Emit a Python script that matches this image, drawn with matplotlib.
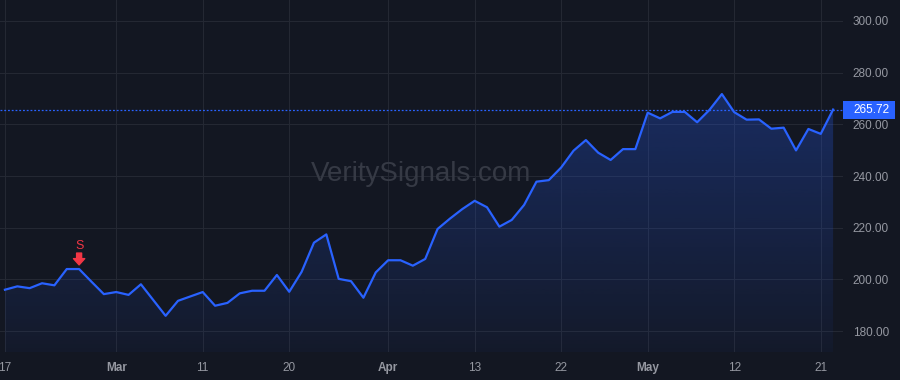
import numpy as np
import matplotlib
matplotlib.use("Agg")
import matplotlib.pyplot as plt
from matplotlib.patches import Rectangle
import matplotlib.transforms as mtransforms

plt.rcParams['font.family'] = ['Liberation Sans', 'DejaVu Sans']

# daily closes, one per trading bar
closes = [
    196.0, 197.3, 196.6, 198.5, 197.7, 204.0, 204.0, 199.1, 194.3, 195.1,
    194.0, 198.1, 192.0, 185.9, 191.7, 193.4, 195.1, 189.8, 190.9, 194.6,
    195.6, 195.6, 201.7, 195.2, 202.9, 214.2, 217.4, 200.2, 199.3, 192.9,
    202.7, 207.4, 207.4, 205.3, 207.9, 219.5, 223.5, 227.2, 230.4, 227.9,
    220.4, 223.0, 228.8, 237.8, 238.4, 243.3, 249.8, 253.9, 249.0, 246.2,
    250.4, 250.4, 264.5, 262.3, 264.8, 264.8, 260.8, 265.6, 271.7, 264.7,
    261.8, 261.9, 258.3, 258.7, 249.9, 258.2, 256.3, 265.72,
]
# x axis labels and the bar they sit on
tick_bars = [0, 9, 16, 23, 31, 38, 45, 52, 59, 66]
tick_labels = ['17', 'Mar', '11', '20', 'Apr', '13', '22', 'May', '12', '21']
months = {'Mar', 'Apr', 'May'}
price_ticks = [180, 200, 220, 240, 260, 280, 300]
signal_bar = 6  # "S" marker
last_price = closes[-1]

BG = '#131722'
GRID = '#242833'
BLUE = '#2962ff'
TXT = '#9598a1'
RED = '#f23645'

x = np.arange(len(closes))
y = np.array(closes)

fig = plt.figure(figsize=(9, 3.8), dpi=100, facecolor=BG)
ax = fig.add_axes([0, 28 / 380, 843 / 900, 352 / 380], facecolor=BG)

ymin, ymax = 171.9, 308.1

for s in ax.spines.values():
    s.set_visible(False)

ax.set_xticks(tick_bars)
ax.set_xticklabels(tick_labels)
for lab in ax.get_xticklabels():
    if lab.get_text() in months:
        lab.set_fontweight('bold')
ax.set_yticks(price_ticks)
ax.set_yticklabels([f'{v:.2f}' for v in price_ticks])
ax.yaxis.tick_right()
ax.tick_params(axis='both', length=0, colors=TXT, labelsize=8.5)
ax.tick_params(axis='x', pad=7)
ax.tick_params(axis='y', pad=7)
ax.grid(True, color=GRID, linewidth=0.8, zorder=0)
ax.set_axisbelow(True)

# watermark
ax.text(0.499, 0.505, 'VeritySignals.com', transform=ax.transAxes,
        ha='center', va='center', fontsize=20, color='#363a45', zorder=1)

# gradient area under the line
poly = ax.fill_between(x, y, ymin, color='none', linewidth=0)
grad = np.zeros((256, 1, 4))
grad[:, 0, 0] = 41 / 255
grad[:, 0, 1] = 98 / 255
grad[:, 0, 2] = 1.0
grad[:, 0, 3] = np.linspace(0.28, 0.04, 256)
img = ax.imshow(grad, extent=[x[0], x[-1], ymin, y.max()], aspect='auto',
                origin='upper', zorder=2)
img.set_clip_path(poly.get_paths()[0], transform=ax.transData)
ax.set_xlim(-0.4, 67.8)
ax.set_ylim(ymin, ymax)

ax.plot(x, y, color=BLUE, linewidth=1.6, zorder=3, solid_joinstyle='round')

# last price line and label
ax.axhline(last_price, color=BLUE, linewidth=0.9, linestyle=(0, (1.5, 1.5)), zorder=3)
trans = mtransforms.blended_transform_factory(ax.transAxes, ax.transData)
box_h = 18 / 2.583
ax.add_patch(Rectangle((1.0, last_price - box_h / 2), 52 / 843, box_h,
                       transform=trans, facecolor=BLUE, edgecolor='none',
                       clip_on=False, zorder=5))
ax.text(1.0 + 10 / 843, last_price, f'{last_price:.2f}', transform=trans,
        ha='left', va='center', color='white', fontsize=8.5, zorder=6,
        clip_on=False)

# sell signal
sb = signal_bar
ax.annotate('', xy=(sb, closes[sb]), xytext=(0, 11.5), textcoords='offset points',
            arrowprops=dict(arrowstyle='simple,head_length=0.5,head_width=0.9,tail_width=0.4',
                            color=RED, shrinkA=0, shrinkB=3, mutation_scale=9),
            zorder=4)
ax.annotate('S', xy=(sb, closes[sb]), xytext=(0, 16.5), textcoords='offset points',
            ha='center', va='center', color=RED, fontsize=9, zorder=4)

fig.savefig('out.png', dpi=100, facecolor=BG)
